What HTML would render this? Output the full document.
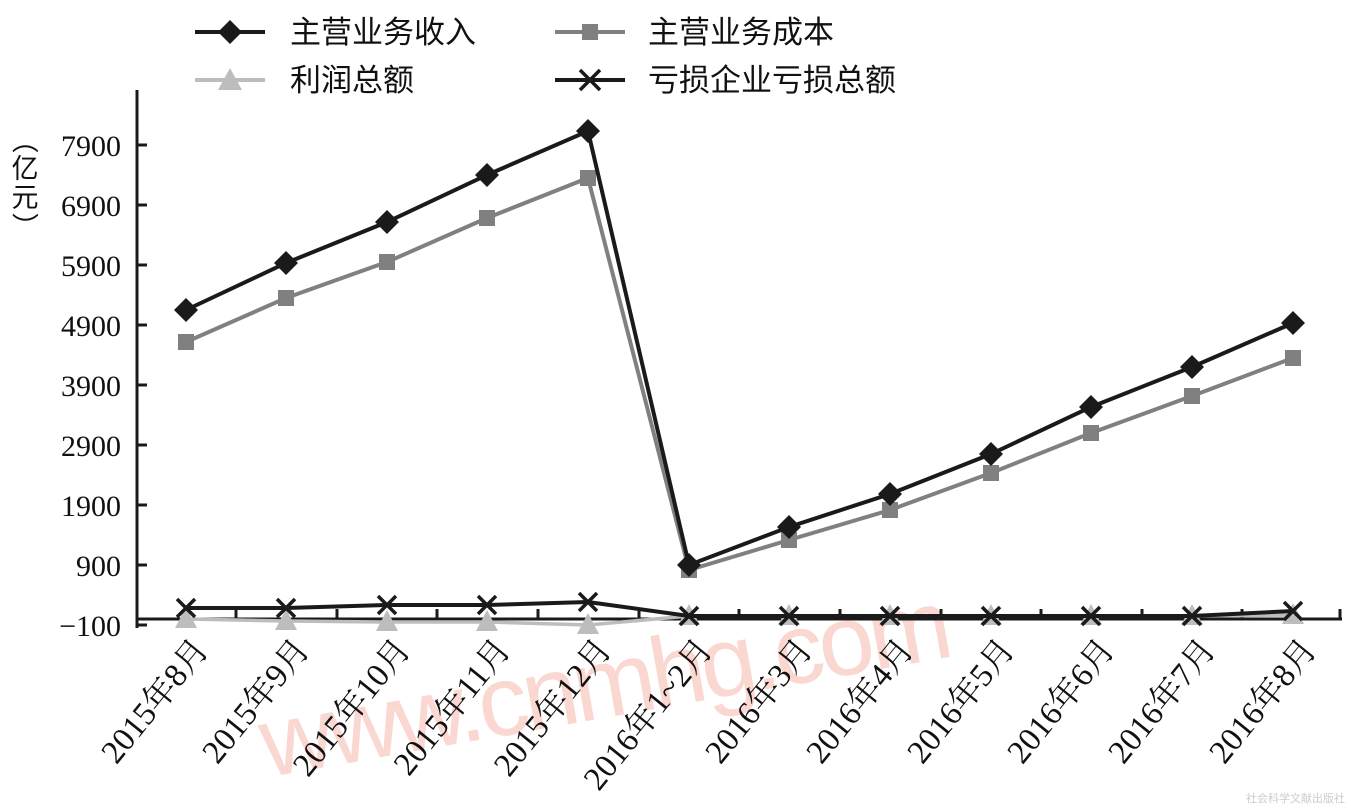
<!DOCTYPE html>
<html><head><meta charset="utf-8"><style>
body{margin:0;background:#fff;}
svg text{font-family:"Liberation Serif","Noto Serif CJK SC",serif;fill:#111;}
.cj{font-family:"Liberation Sans","Noto Sans CJK SC",sans-serif;}
</style></head><body>
<svg width="1351" height="807" viewBox="0 0 1351 807" xmlns="http://www.w3.org/2000/svg">
<!-- watermark -->
<text x="255" y="718" class="cj" font-size="100" transform="rotate(-10 600 680)" style="fill:#f6b8ab;font-weight:100" opacity="0.55" textLength="700">www.cnmhg.com</text>
<!-- legend -->
<g stroke-width="4">
<line x1="195" y1="32" x2="265" y2="32" stroke="#1a1a1a"/>
<polygon points="230,20 242,32 230,44 218,32" fill="#1a1a1a"/>
<line x1="555" y1="32" x2="625" y2="32" stroke="#808080"/>
<rect x="582" y="24" width="16" height="16" fill="#808080"/>
<line x1="195" y1="80" x2="265" y2="80" stroke="#bdbdbd"/>
<polygon points="230,68 242,90 218,90" fill="#bdbdbd"/>
<line x1="555" y1="80" x2="625" y2="80" stroke="#1a1a1a"/>
<path d="M580,70 L600,90 M600,70 L580,90" stroke="#1a1a1a" stroke-width="3.5"/>
</g>
<g class="cj" font-size="31">
<text x="290" y="43" class="cj">主营业务收入</text>
<text x="648" y="43" class="cj">主营业务成本</text>
<text x="290" y="91" class="cj">利润总额</text>
<text x="648" y="91" class="cj">亏损企业亏损总额</text>
</g>
<!-- y axis -->
<line x1="137" y1="90" x2="137" y2="628" stroke="#1a1a1a" stroke-width="3"/>
<g stroke="#1a1a1a" stroke-width="3">
<line x1="137" y1="145" x2="147" y2="145"/><line x1="137" y1="205" x2="147" y2="205"/>
<line x1="137" y1="265" x2="147" y2="265"/><line x1="137" y1="325" x2="147" y2="325"/>
<line x1="137" y1="385" x2="147" y2="385"/><line x1="137" y1="445" x2="147" y2="445"/>
<line x1="137" y1="505" x2="147" y2="505"/><line x1="137" y1="565" x2="147" y2="565"/>
<line x1="137" y1="625" x2="147" y2="625"/>
</g>
<g font-size="30" text-anchor="end">
<text x="121" y="156">7900</text><text x="121" y="216">6900</text><text x="121" y="276">5900</text>
<text x="121" y="336">4900</text><text x="121" y="396">3900</text><text x="121" y="456">2900</text>
<text x="121" y="516">1900</text><text x="121" y="576">900</text><text x="121" y="636">−100</text>
</g>
<g class="cj" font-size="27" text-anchor="middle">
<text x="25" y="150" class="cj" transform="rotate(90 25 140)">（</text>
<text x="25" y="178" class="cj">亿</text>
<text x="25" y="207" class="cj">元</text>
<text x="25" y="236" class="cj" transform="rotate(90 25 226)">）</text>
</g>
<!-- x axis -->
<line x1="137" y1="619" x2="1342" y2="619" stroke="#1a1a1a" stroke-width="3"/>
<g stroke="#1a1a1a" stroke-width="3">
<line x1="236" y1="619" x2="236" y2="609"/><line x1="337" y1="619" x2="337" y2="609"/>
<line x1="437" y1="619" x2="437" y2="609"/><line x1="538" y1="619" x2="538" y2="609"/>
<line x1="639" y1="619" x2="639" y2="609"/><line x1="739" y1="619" x2="739" y2="609"/>
<line x1="840" y1="619" x2="840" y2="609"/><line x1="941" y1="619" x2="941" y2="609"/>
<line x1="1041" y1="619" x2="1041" y2="609"/><line x1="1142" y1="619" x2="1142" y2="609"/>
<line x1="1242" y1="619" x2="1242" y2="609"/><line x1="1340" y1="619" x2="1340" y2="609"/>
</g>
<g font-size="33" text-anchor="end">
<text transform="translate(210,650) rotate(-51)">2015年8月</text>
<text transform="translate(311,650) rotate(-51)">2015年9月</text>
<text transform="translate(412,650) rotate(-51)">2015年10月</text>
<text transform="translate(512,650) rotate(-51)">2015年11月</text>
<text transform="translate(613,650) rotate(-51)">2015年12月</text>
<text transform="translate(714,650) rotate(-51)">2016年1~2月</text>
<text transform="translate(814,650) rotate(-51)">2016年3月</text>
<text transform="translate(915,650) rotate(-51)">2016年4月</text>
<text transform="translate(1016,650) rotate(-51)">2016年5月</text>
<text transform="translate(1116,650) rotate(-51)">2016年6月</text>
<text transform="translate(1217,650) rotate(-51)">2016年7月</text>
<text transform="translate(1318,650) rotate(-51)">2016年8月</text>
</g>
<!-- series -->
<polyline fill="none" stroke="#bdbdbd" stroke-width="3.5" points="186,619 286,621 387,622 487,622 588,625 689,616 789,616 890,616 991,616 1091,616 1192,616 1293,615"/>
<g fill="#bdbdbd">
<polygon points="186,607 197,628 175,628"/><polygon points="286,609 297,630 275,630"/>
<polygon points="387,610 398,631 376,631"/><polygon points="487,610 498,631 476,631"/>
<polygon points="588,613 599,634 577,634"/><polygon points="689,604 700,625 678,625"/>
<polygon points="789,604 800,625 778,625"/><polygon points="890,604 901,625 879,625"/>
<polygon points="991,604 1002,625 980,625"/><polygon points="1091,604 1102,625 1080,625"/>
<polygon points="1192,604 1203,625 1181,625"/><polygon points="1293,603 1304,624 1282,624"/>
</g>
<polyline fill="none" stroke="#1a1a1a" stroke-width="4" points="186,608 286,608 387,605 487,605 588,602 689,616 789,616 890,616 991,616 1091,616 1192,616 1293,611"/>
<g stroke="#1a1a1a" stroke-width="3.5">
<path d="M177,599 L195,617 M195,599 L177,617"/><path d="M277,599 L295,617 M295,599 L277,617"/>
<path d="M378,596 L396,614 M396,596 L378,614"/><path d="M478,596 L496,614 M496,596 L478,614"/>
<path d="M579,593 L597,611 M597,593 L579,611"/><path d="M680,607 L698,625 M698,607 L680,625"/>
<path d="M780,607 L798,625 M798,607 L780,625"/><path d="M881,607 L899,625 M899,607 L881,625"/>
<path d="M982,607 L1000,625 M1000,607 L982,625"/><path d="M1082,607 L1100,625 M1100,607 L1082,625"/>
<path d="M1183,607 L1201,625 M1201,607 L1183,625"/><path d="M1284,602 L1302,620 M1302,602 L1284,620"/>
</g>
<polyline fill="none" stroke="#808080" stroke-width="4" points="186,342 286,298 387,262 487,218 588,178 689,570 789,540 890,510 991,473 1091,433 1192,396 1293,358"/>
<g fill="#808080">
<rect x="178" y="334" width="16" height="16"/><rect x="278" y="290" width="16" height="16"/>
<rect x="379" y="254" width="16" height="16"/><rect x="479" y="210" width="16" height="16"/>
<rect x="580" y="170" width="16" height="16"/><rect x="681" y="562" width="16" height="16"/>
<rect x="781" y="532" width="16" height="16"/><rect x="882" y="502" width="16" height="16"/>
<rect x="983" y="465" width="16" height="16"/><rect x="1083" y="425" width="16" height="16"/>
<rect x="1184" y="388" width="16" height="16"/><rect x="1285" y="350" width="16" height="16"/>
</g>
<polyline fill="none" stroke="#1a1a1a" stroke-width="4" points="186,310 286,263 387,222 487,175 588,131 689,565 789,527 890,494 991,454 1091,407 1192,367 1293,323"/>
<g fill="#1a1a1a">
<polygon points="186,298 198,310 186,322 174,310"/><polygon points="286,251 298,263 286,275 274,263"/>
<polygon points="387,210 399,222 387,234 375,222"/><polygon points="487,163 499,175 487,187 475,175"/>
<polygon points="588,119 600,131 588,143 576,131"/><polygon points="689,553 701,565 689,577 677,565"/>
<polygon points="789,515 801,527 789,539 777,527"/><polygon points="890,482 902,494 890,506 878,494"/>
<polygon points="991,442 1003,454 991,466 979,454"/><polygon points="1091,395 1103,407 1091,419 1079,407"/>
<polygon points="1192,355 1204,367 1192,379 1180,367"/><polygon points="1293,311 1305,323 1293,335 1281,323"/>
</g>
<text x="1345" y="802" class="cj" font-size="11" text-anchor="end" style="fill:#ccc">社会科学文献出版社</text>
</svg>
</body></html>
